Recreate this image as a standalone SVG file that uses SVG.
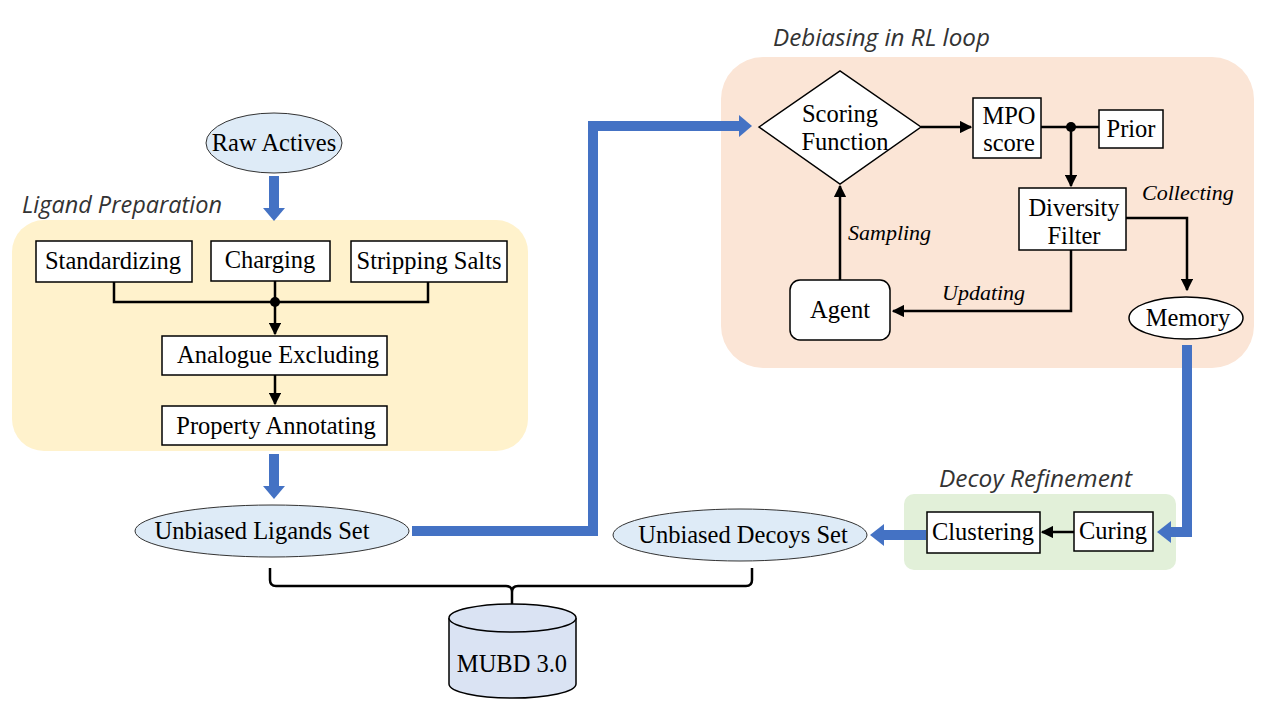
<svg xmlns="http://www.w3.org/2000/svg" width="1268" height="726" viewBox="0 0 1268 726">
<defs>
<marker id="ah" viewBox="0 0 10 10" refX="9" refY="5" markerWidth="5" markerHeight="5" orient="auto"><path d="M0,0 L10,5 L0,10 z" fill="#000"/></marker>
<style>
.box{fill:#fff;stroke:#000;stroke-width:1.5}
.ell{fill:#DEEBF7;stroke:#333;stroke-width:1}
.t{font-family:"Liberation Serif","Times New Roman",serif;font-size:24.5px;fill:#000;text-anchor:middle}
.lab{font-family:"Liberation Serif","Times New Roman",serif;font-size:22px;font-style:italic;fill:#000}
.hdr{font-family:"Open Sans","Noto Sans",sans-serif;font-size:23.5px;font-style:italic;fill:#333}
.ln{fill:none;stroke:#000;stroke-width:2.5}
.blue{fill:none;stroke:#4472C4;stroke-width:10}
.bh{fill:#4472C4}
</style>
</defs>
<rect width="1268" height="726" fill="#fff"/>

<g id="panels">
<rect x="12" y="220" width="516" height="231" rx="32" fill="#FFF2CC"/>
<rect x="721" y="57" width="533" height="311" rx="42" fill="#FBE5D6"/>
<rect x="904" y="494" width="272" height="76" rx="10" fill="#E2F0D9"/>
<text class="hdr" x="22" y="213" textLength="200" lengthAdjust="spacingAndGlyphs">Ligand Preparation</text>
<text class="hdr" x="773" y="46" textLength="217" lengthAdjust="spacingAndGlyphs">Debiasing in RL loop</text>
<text class="hdr" x="939" y="487" textLength="193" lengthAdjust="spacingAndGlyphs">Decoy Refinement</text>
</g>

<g id="connectors">
<line class="blue" x1="274" y1="176" x2="274" y2="210"/>
<polygon class="bh" points="263,208 285,208 274,221"/>
<line class="blue" x1="274" y1="454" x2="274" y2="488"/>
<polygon class="bh" points="263,486 285,486 274,499"/>
<polyline class="blue" points="412,531 593,531 593,126 741,126"/>
<polygon class="bh" points="739,115 739,137 752,126"/>
<polyline class="blue" points="1187,345 1187,532 1170,532"/>
<polygon class="bh" points="1171,521 1171,543 1157,532"/>
<line class="blue" x1="926" y1="535" x2="882" y2="535"/>
<polygon class="bh" points="884,524 884,546 870,535"/>
<polyline class="ln" points="114,282 114,302 428,302 428,282"/>
<line class="ln" x1="275" y1="281" x2="275" y2="334" marker-end="url(#ah)"/>
<circle cx="275" cy="302" r="5" fill="#000"/>
<line class="ln" x1="275" y1="375" x2="275" y2="404" marker-end="url(#ah)"/>
<line class="ln" x1="921" y1="127" x2="971" y2="127" marker-end="url(#ah)"/>
<line class="ln" x1="1041" y1="127" x2="1099" y2="127"/>
<circle cx="1071" cy="127" r="5" fill="#000"/>
<line class="ln" x1="1071" y1="127" x2="1071" y2="186" marker-end="url(#ah)"/>
<polyline class="ln" points="1126,218 1187,218 1187,290" marker-end="url(#ah)"/>
<polyline class="ln" points="1071,250 1071,311 893,311" marker-end="url(#ah)"/>
<line class="ln" x1="840" y1="280" x2="840" y2="186" marker-end="url(#ah)"/>
<text class="lab" x="848" y="240">Sampling</text>
<text class="lab" x="942" y="300">Updating</text>
<text class="lab" x="1142" y="200">Collecting</text>
<line class="ln" x1="1074" y1="532" x2="1042" y2="532" marker-end="url(#ah)"/>
<path class="ln" d="M270,568 L270,580 Q270,586 276,586 L506,586 Q512,586 512,592 L512,604 M512,592 Q512,586 518,586 L746,586 Q752,586 752,580 L752,568"/>
</g>

<g id="raw-actives">
<ellipse class="ell" cx="274" cy="143" rx="68" ry="30"/>
<text class="t" x="274" y="151">Raw Actives</text>
</g>
<g id="standardizing">
<rect class="box" x="36" y="241" width="156" height="41"/>
<text class="t" x="113" y="269">Standardizing</text>
</g>
<g id="charging">
<rect class="box" x="211" y="241" width="119" height="40"/>
<text class="t" x="270" y="268">Charging</text>
</g>
<g id="stripping-salts">
<rect class="box" x="351" y="241" width="156" height="41"/>
<text class="t" x="429" y="269">Stripping Salts</text>
</g>
<g id="analogue-excluding">
<rect class="box" x="162" y="336" width="225" height="39"/>
<text class="t" x="278" y="363">Analogue Excluding</text>
</g>
<g id="property-annotating">
<rect class="box" x="162" y="406" width="225" height="39"/>
<text class="t" x="276" y="434">Property Annotating</text>
</g>
<g id="unbiased-ligands">
<ellipse class="ell" cx="272" cy="531" rx="137" ry="26"/>
<text class="t" x="262" y="539">Unbiased Ligands Set</text>
</g>
<g id="scoring-function">
<polygon class="box" points="759,127 840,71 921,127 840,184"/>
<text class="t" x="840" y="122">Scoring</text>
<text class="t" x="845" y="150">Function</text>
</g>
<g id="mpo-score">
<rect class="box" x="973" y="98" width="68" height="60"/>
<text class="t" x="1009" y="124">MPO</text>
<text class="t" x="1009" y="151">score</text>
</g>
<g id="prior">
<rect class="box" x="1099" y="110" width="64" height="38"/>
<text class="t" x="1131" y="137">Prior</text>
</g>
<g id="diversity-filter">
<rect class="box" x="1019" y="188" width="107" height="62"/>
<text class="t" x="1074" y="216">Diversity</text>
<text class="t" x="1074" y="244">Filter</text>
</g>
<g id="agent">
<rect class="box" x="790" y="280" width="100" height="60" rx="10"/>
<text class="t" x="840" y="318">Agent</text>
</g>
<g id="memory">
<ellipse cx="1186" cy="318" rx="57" ry="21" fill="#fff" stroke="#000" stroke-width="1.5"/>
<text class="t" x="1188" y="326">Memory</text>
</g>
<g id="curing">
<rect class="box" x="1074" y="512" width="79" height="39"/>
<text class="t" x="1113" y="539">Curing</text>
</g>
<g id="clustering">
<rect class="box" x="927" y="512" width="113" height="41"/>
<text class="t" x="983" y="540">Clustering</text>
</g>
<g id="unbiased-decoys">
<ellipse class="ell" cx="740" cy="535" rx="127" ry="26"/>
<text class="t" x="743" y="543">Unbiased Decoys Set</text>
</g>
<g id="mubd">
<path d="M449,618 L449,684 A63,14 0 0 0 576,684 L576,618" fill="#DAE3F3" stroke="#000" stroke-width="1.5"/>
<ellipse cx="512.5" cy="618" rx="63.5" ry="14" fill="#DAE3F3" stroke="#000" stroke-width="1.5"/>
<text class="t" x="512" y="672">MUBD 3.0</text>
</g>
</svg>
